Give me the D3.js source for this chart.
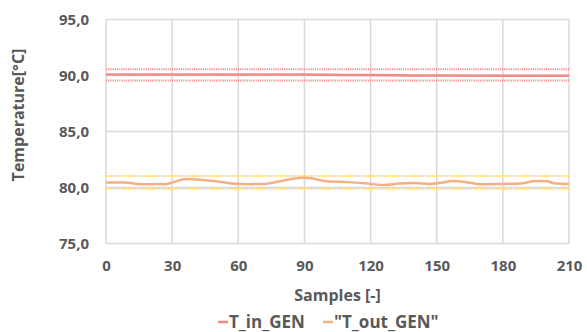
<!DOCTYPE html>
<html>
<head>
<meta charset="utf-8">
<script src="https://cdn.jsdelivr.net/npm/d3@7"></script>
<style>
  body { margin: 0; background: #fff; }
  svg text { font-family: "Open Sans", "Noto Sans", sans-serif; font-weight: bold; fill: #595959; }
</style>
</head>
<body>
<div id="chart"></div>
<script>
// ---- data ----
const xTicks = [0, 30, 60, 90, 120, 150, 180, 210];
const yTicks = [75, 80, 85, 90, 95];
const inSamples = [0, 30, 60, 90, 110, 130, 150, 180, 210];
const inValues  = [90.1, 90.08, 90.08, 90.1, 90.05, 90.02, 90.0, 89.98, 89.97];
const inUpper = 90.55;
const inLower = 89.56;
const outSamples = [0, 8, 17, 22, 27, 31, 36, 41, 50, 58, 65, 72, 80, 89, 93, 100, 110, 120, 126, 133, 140, 147, 152, 157, 163, 170, 180, 188, 195, 200, 204, 210];
const outValues  = [80.45, 80.45, 80.28, 80.32, 80.3, 80.5, 80.76, 80.72, 80.55, 80.34, 80.3, 80.32, 80.6, 80.88, 80.82, 80.55, 80.48, 80.32, 80.22, 80.35, 80.4, 80.32, 80.42, 80.58, 80.5, 80.28, 80.32, 80.35, 80.58, 80.55, 80.35, 80.32];
const outUpper = 81.02;
const outLower = 79.88;
const seriesNames = ["T_in_GEN", "\"T_out_GEN\""];
const colors = { inSolid: "#f08a8a", inDot: "#ef8f8f", outSolid: "#f4b084", outDot: "#ffd35c" };

// ---- layout ----
const W = 587, H = 332;
const m = { left: 106, right: 18, top: 19.5, bottom: 88.5 };
const svg = d3.select("#chart").append("svg").attr("width", W).attr("height", H);

const x = d3.scaleLinear().domain([0, 210]).range([m.left, W - m.right]);
const y = d3.scaleLinear().domain([75, 95]).range([H - m.bottom, m.top]);

// grid
const grid = svg.append("g");
grid.selectAll(".vg").data(xTicks).enter().append("line")
  .attr("x1", d => x(d)).attr("x2", d => x(d))
  .attr("y1", y(75)).attr("y2", y(95))
  .attr("stroke", "#d9d9d9").attr("stroke-width", 1.5);
grid.selectAll(".hg").data(yTicks).enter().append("line")
  .attr("x1", x(0)).attr("x2", x(210))
  .attr("y1", d => y(d)).attr("y2", d => y(d))
  .attr("stroke", "#d9d9d9").attr("stroke-width", 1.5);

// axes
const fmt = d => d.toFixed(1).replace(".", ",");
const yAxis = svg.append("g").attr("transform", `translate(${m.left},0)`)
  .call(d3.axisLeft(y).tickValues(yTicks).tickFormat(fmt).tickSize(0).tickPadding(17));
yAxis.select(".domain").remove();
yAxis.selectAll("text").style("font-size", "15px");

const xAxis = svg.append("g").attr("transform", `translate(0,${y(75)})`)
  .call(d3.axisBottom(x).tickValues(xTicks).tickFormat(d3.format("d")).tickSize(0).tickPadding(17));
xAxis.select(".domain").remove();
xAxis.selectAll("text").style("font-size", "15px");

// bound lines
const bounds = [
  { v: inLower, c: colors.inDot }, { v: inUpper, c: colors.inDot },
  { v: outLower, c: colors.outDot }, { v: outUpper, c: colors.outDot }
];
svg.selectAll(".bound").data(bounds).enter().append("line")
  .attr("x1", x(0)).attr("x2", x(210))
  .attr("y1", d => y(d.v)).attr("y2", d => y(d.v))
  .attr("stroke", d => d.c).attr("stroke-width", 2)
  .attr("stroke-dasharray", "1.2,1");

// series lines
const line = d3.line().x(d => x(d[0])).y(d => y(d[1])).curve(d3.curveMonotoneX);
svg.append("path").datum(inSamples.map((s, i) => [s, inValues[i]]))
  .attr("d", line).attr("fill", "none").attr("stroke", colors.inSolid).attr("stroke-width", 2.5);
svg.append("path").datum(outSamples.map((s, i) => [s, outValues[i]]))
  .attr("d", line).attr("fill", "none").attr("stroke", colors.outSolid).attr("stroke-width", 2.5);

// axis titles
svg.append("text").attr("x", 337.5).attr("y", 301)
  .attr("text-anchor", "middle").style("font-size", "16px").text("Samples [-]");
svg.append("text").attr("transform", `translate(24,115) rotate(-90)`)
  .attr("text-anchor", "middle").style("font-size", "16px").text("Temperature[°C]");

// legend
const leg = [
  { name: seriesNames[0], c: colors.inSolid, x: 218 },
  { name: seriesNames[1], c: colors.outSolid, x: 323 }
];
const lg = svg.selectAll(".leg").data(leg).enter().append("g");
lg.append("line").attr("x1", d => d.x).attr("x2", d => d.x + 10)
  .attr("y1", 322).attr("y2", 322).attr("stroke", d => d.c).attr("stroke-width", 2.5);
lg.append("text").attr("x", d => d.x + 11).attr("y", 328)
  .style("font-size", "17px").text(d => d.name);
</script>
</body>
</html>
